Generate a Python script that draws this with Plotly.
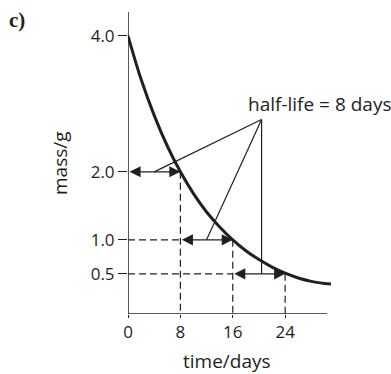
import plotly.graph_objects as go

# decay curve
time_days = [0, 2, 4, 6, 8, 10, 12, 14, 16, 18, 20, 22, 24, 26, 28, 30, 31]
mass_g = [4.0, 3.36, 2.83, 2.38, 2.0, 1.68, 1.41, 1.19, 1.0, 0.84, 0.71, 0.60, 0.51, 0.44, 0.39, 0.36, 0.35]

# half-life construction
half_t = [0, 8, 16, 24]
half_m = [4.0, 2.0, 1.0, 0.5]
x_ticks = [0, 8, 16, 24]
x_ticklabels = ["0", "8", "16", "24"]
y_ticks = [4.0, 2.0, 1.0, 0.5]
y_ticklabels = ["4.0", "2.0", "1.0", "0.5"]
label_text = "half-life = 8 days"
label_apex = (20.4, 2.77)
pointer_targets = [(4, 2.0), (12, 1.0), (20.4, 0.5)]

X0, X1 = 0, 31
Y0, Y1 = -0.09, 4.35
XAXIS_END = 30.4
INK = "#231f20"
FONT = "Open Sans"

fig = go.Figure()
fig.add_trace(go.Scatter(x=time_days, y=mass_g, mode="lines", line=dict(color=INK, width=3, shape="spline"),
                         hoverinfo="skip", cliponaxis=False))

shapes = []
# axis lines
shapes.append(dict(type="line", xref="x", yref="y", x0=X0, x1=XAXIS_END, y0=Y0, y1=Y0, line=dict(color=INK, width=1.5)))
shapes.append(dict(type="line", xref="x", yref="y", x0=X0, x1=X0, y0=Y0, y1=Y1, line=dict(color=INK, width=1.5)))
# dashed guides
for i in range(1, 4):
    shapes.append(dict(type="line", xref="x", yref="y", x0=half_t[i], x1=half_t[i], y0=half_m[i], y1=Y0,
                       line=dict(color=INK, width=1.2, dash="7px,4px")))
for i in range(1, 3):
    shapes.append(dict(type="line", xref="x", yref="y", x0=0, x1=half_t[i], y0=half_m[i + 1], y1=half_m[i + 1],
                       line=dict(color=INK, width=1.2, dash="7px,4px")))
# pointer lines
for tx, ty in pointer_targets:
    shapes.append(dict(type="line", xref="x", yref="y", x0=label_apex[0], y0=label_apex[1], x1=tx, y1=ty,
                       line=dict(color=INK, width=1.2)))

annotations = []
# double-headed arrows
for i in range(3):
    annotations.append(dict(x=half_t[i + 1], y=half_m[i + 1], ax=half_t[i], ay=half_m[i + 1],
                            xref="x", yref="y", axref="x", ayref="y", text="", showarrow=True,
                            arrowhead=2, startarrowhead=2, arrowside="end+start", arrowsize=1.7,
                            startarrowsize=1.7, arrowwidth=1.3, arrowcolor=INK, standoff=0, startstandoff=0))

pw, ph = 203, 302


def px(xp, yp):
    return (xp - 128) / pw, (314 - yp) / ph


lx, ly = px(319.5, 104)
annotations.append(dict(x=lx, y=ly, xref="paper", yref="paper", text=label_text, showarrow=False,
                        font=dict(family=FONT, size=19, color=INK), xanchor="center", yanchor="middle"))
tx_, ty_ = px(227, 361)
annotations.append(dict(x=tx_, y=ty_, xref="paper", yref="paper", text="time/days",
                        showarrow=False, font=dict(family=FONT, size=19, color=INK), xanchor="center", yanchor="middle"))
mx, my = px(60, 163)
annotations.append(dict(x=mx, y=my, xref="paper", yref="paper", text="mass/g",
                        textangle=-90, showarrow=False, font=dict(family=FONT, size=19, color=INK),
                        xanchor="center", yanchor="middle"))
cx, cy = px(17, 20)
annotations.append(dict(x=cx, y=cy, xref="paper", yref="paper", text="<b>c)</b>",
                        showarrow=False, font=dict(family="Liberation Serif", size=21, color=INK),
                        xanchor="center", yanchor="middle"))

fig.update_layout(
    width=391, height=374,
    margin=dict(l=128, r=391 - 128 - pw, t=12, b=60),
    plot_bgcolor="white", paper_bgcolor="white",
    showlegend=False,
    shapes=shapes,
    annotations=annotations,
    xaxis=dict(range=[X0, X1], tickvals=x_ticks, ticktext=x_ticklabels, showgrid=False, zeroline=False,
               showline=False, ticks="outside", ticklen=3, tickwidth=1.3, tickcolor=INK,
               tickfont=dict(family=FONT, size=17, color=INK), fixedrange=True),
    yaxis=dict(range=[Y0, Y1], tickvals=y_ticks, ticktext=y_ticklabels, showgrid=False, zeroline=False,
               showline=False, ticks="outside", ticklen=9, tickwidth=1.3, tickcolor=INK,
               tickfont=dict(family=FONT, size=17, color=INK), fixedrange=True),
)
fig.write_html("out.html", config={"displayModeBar": False},
               post_script="document.body.style.margin='0';")
